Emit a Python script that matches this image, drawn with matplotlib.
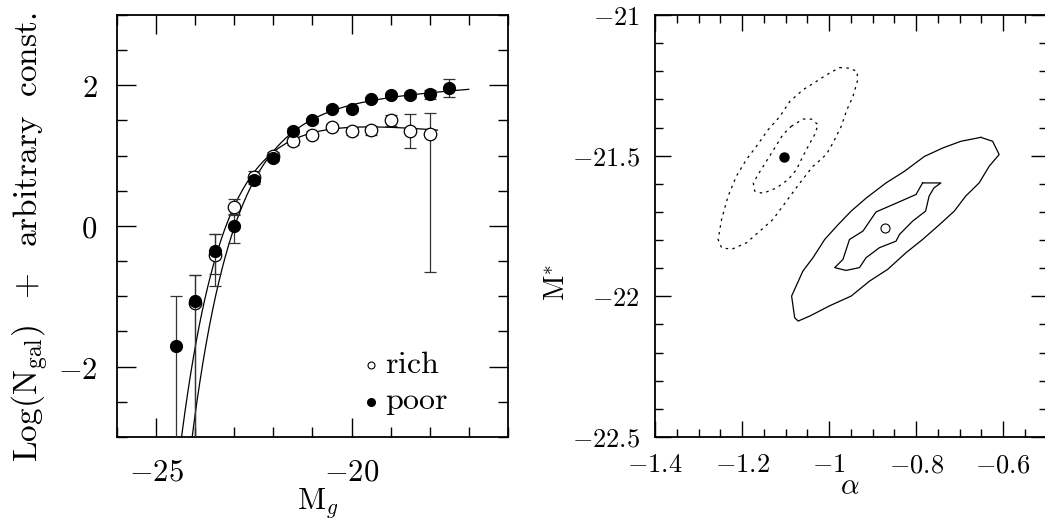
import numpy as np
import matplotlib
matplotlib.use("Agg")
import matplotlib.pyplot as plt
from matplotlib.ticker import MultipleLocator, FuncFormatter

plt.rcParams['mathtext.fontset'] = 'cm'
plt.rcParams['font.family'] = 'serif'
plt.rcParams['axes.formatter.use_mathtext'] = True

# ---- left panel: luminosity function data ----
mag_poor = [-24.5, -24.0, -23.5, -23.0, -22.5, -22.0, -21.5, -21.0,
            -20.5, -20.0, -19.5, -19.0, -18.5, -18.0, -17.5]
logn_poor = [-1.71, -1.07, -0.35, 0.00, 0.65, 0.97, 1.35, 1.50,
             1.67, 1.66, 1.80, 1.86, 1.86, 1.87, 1.96]
err_poor_lo = [3.0, 3.0, 0.33, 0.24, 0.06, 0.05, 0.04, 0.03,
               0.03, 0.03, 0.03, 0.03, 0.04, 0.06, 0.13]
err_poor_hi = [0.71, 0.37, 0.23, 0.17, 0.06, 0.05, 0.04, 0.03,
               0.03, 0.03, 0.03, 0.03, 0.04, 0.06, 0.13]

mag_rich = [-24.0, -23.5, -23.0, -22.5, -22.0, -21.5, -21.0,
            -20.5, -20.0, -19.5, -19.0, -18.5, -18.0]
logn_rich = [-1.10, -0.41, 0.27, 0.70, 1.00, 1.21, 1.30,
             1.41, 1.35, 1.36, 1.50, 1.35, 1.31]
err_rich_lo = [3.0, 0.44, 0.12, 0.08, 0.05, 0.06, 0.05,
               0.04, 0.05, 0.06, 0.08, 0.24, 1.97]
err_rich_hi = [0.40, 0.29, 0.12, 0.08, 0.05, 0.06, 0.05,
               0.04, 0.05, 0.06, 0.08, 0.24, 0.29]

# best-fit Schechter parameters (alpha, M*, log normalisation)
fit_rich = (-0.87, -21.76, 1.58)
fit_poor = (-1.10, -21.50, 1.77)

# ---- right panel: confidence contours (alpha, M*) ----
poor_outer_a = [-0.976, -0.953, -0.935, -0.935, -0.945, -0.959, -0.972, -0.991,
                -1.006, -1.022, -1.037, -1.067, -1.098, -1.129, -1.159, -1.190,
                -1.224, -1.247, -1.255, -1.247, -1.232, -1.213, -1.190, -1.167,
                -1.140, -1.113, -1.090, -1.060, -1.033, -1.006, -0.976]
poor_outer_m = [-21.187, -21.189, -21.201, -21.236, -21.290, -21.337, -21.396, -21.455,
                -21.495, -21.518, -21.538, -21.597, -21.662, -21.727, -21.768, -21.810,
                -21.833, -21.827, -21.798, -21.727, -21.644, -21.573, -21.514, -21.467,
                -21.408, -21.361, -21.307, -21.266, -21.240, -21.213, -21.187]
poor_inner_a = [-1.087, -1.060, -1.041, -1.025, -1.033, -1.048, -1.060, -1.075,
                -1.094, -1.121, -1.152, -1.171, -1.174, -1.163, -1.144, -1.125,
                -1.106, -1.087]
poor_inner_m = [-21.396, -21.370, -21.370, -21.390, -21.425, -21.467, -21.502, -21.550,
                -21.585, -21.615, -21.634, -21.626, -21.597, -21.567, -21.520, -21.473,
                -21.425, -21.396]
rich_outer_a = [-0.651, -0.624, -0.609, -0.632, -0.655, -0.686, -0.712, -0.746,
                -0.785, -0.823, -0.865, -0.907, -0.949, -0.999, -1.044, -1.071,
                -1.079, -1.086, -1.060, -1.037, -1.010, -0.979, -0.949, -0.914,
                -0.869, -0.827, -0.781, -0.739, -0.697, -0.651]
rich_outer_m = [-21.435, -21.449, -21.496, -21.538, -21.597, -21.644, -21.697, -21.745,
                -21.798, -21.845, -21.904, -21.946, -21.999, -22.034, -22.070, -22.088,
                -22.076, -21.999, -21.910, -21.863, -21.798, -21.745, -21.697, -21.650,
                -21.597, -21.556, -21.503, -21.473, -21.449, -21.435]
rich_inner_a = [-0.785, -0.743, -0.759, -0.770, -0.778, -0.808, -0.838, -0.846,
                -0.884, -0.915, -0.930, -0.961, -0.987, -0.968, -0.953, -0.922,
                -0.892, -0.853, -0.800, -0.785]
rich_inner_m = [-21.597, -21.597, -21.615, -21.644, -21.697, -21.733, -21.780, -21.804,
                -21.827, -21.863, -21.898, -21.908, -21.898, -21.869, -21.798, -21.768,
                -21.700, -21.674, -21.638, -21.597]
best_rich = (-0.871, -21.757)
best_poor = (-1.104, -21.506)


def schechter_log(m, alpha, mstar, lognorm):
    x = 10 ** (0.4 * (mstar - m))
    return lognorm + (alpha + 1) * np.log10(x) - x / np.log(10)


def mtick(v, pos):
    return r"$%g$" % v


fig = plt.figure(figsize=(10.45, 5.27), dpi=100)
ax1 = fig.add_axes([0.112, 0.1708, 0.374, 0.8008])
ax2 = fig.add_axes([0.6268, 0.1708, 0.3747, 0.8008])

# left panel
mm = np.linspace(-25.0, -17.8, 400)
ax1.plot(mm, schechter_log(mm, *fit_rich), color='black', lw=0.9)
mm = np.linspace(-25.0, -17.0, 400)
ax1.plot(mm, schechter_log(mm, *fit_poor), color='black', lw=0.9)

ax1.errorbar(mag_rich, logn_rich, yerr=[err_rich_lo, err_rich_hi], fmt='o',
             mfc='white', mec='black', mew=0.9, ms=9, ecolor='#333333',
             elinewidth=0.9, capsize=4, capthick=0.9, zorder=3)
ax1.errorbar(mag_poor, logn_poor, yerr=[err_poor_lo, err_poor_hi], fmt='o',
             mfc='black', mec='black', ms=8.5, ecolor='#333333',
             elinewidth=0.9, capsize=4, capthick=0.9, zorder=4)

ax1.set_xlim(-26, -16)
ax1.set_ylim(-3, 3)
ax1.xaxis.set_major_locator(MultipleLocator(5))
ax1.xaxis.set_minor_locator(MultipleLocator(1))
ax1.yaxis.set_major_locator(MultipleLocator(2))
ax1.yaxis.set_minor_locator(MultipleLocator(0.5))
ax1.xaxis.set_major_formatter(FuncFormatter(mtick))
ax1.yaxis.set_major_formatter(FuncFormatter(mtick))
ax1.tick_params(which='both', direction='in', top=True, right=True,
                width=1.0, labelsize=22, pad=14)
ax1.tick_params(which='major', length=13.5)
ax1.tick_params(which='minor', length=7)

ax1.plot([0.651], [0.171], 'o', mfc='white', mec='black', mew=0.8, ms=5,
         transform=ax1.transAxes, clip_on=False)
ax1.plot([0.651], [0.084], 'o', color='black', ms=5.5,
         transform=ax1.transAxes, clip_on=False)
ax1.text(0.685, 0.171, r"$\mathrm{rich}$", fontsize=23, va='center',
         transform=ax1.transAxes)
ax1.text(0.685, 0.084, r"$\mathrm{poor}$", fontsize=23, va='center',
         transform=ax1.transAxes)

fig.text(318 / 1045, 1 - 503 / 527, r"$\mathrm{M}_g$", fontsize=22,
         ha='center', va='center')
fig.text(30 / 1045, 1 - 237 / 527,
         r"$\mathrm{Log(N_{gal})\ \ +\ \ arbitrary\ \ const.}$",
         fontsize=24, rotation=90, ha='center', va='center')

# right panel
ax2.plot(poor_outer_a, poor_outer_m, color='black', lw=0.9, ls=(0, (2, 3.5)))
ax2.plot(poor_inner_a, poor_inner_m, color='black', lw=0.9, ls=(0, (2, 3.5)))
ax2.plot(rich_outer_a, rich_outer_m, color='black', lw=0.9)
ax2.plot(rich_inner_a, rich_inner_m, color='black', lw=0.9)
ax2.plot([best_poor[0]], [best_poor[1]], 'o', color='black', ms=6.5)
ax2.plot([best_rich[0]], [best_rich[1]], 'o', mfc='white', mec='black',
         mew=0.8, ms=6.5)

ax2.set_xlim(-1.4, -0.5)
ax2.set_ylim(-22.5, -21)
ax2.xaxis.set_major_locator(MultipleLocator(0.2))
ax2.xaxis.set_minor_locator(MultipleLocator(0.05))
ax2.yaxis.set_major_locator(MultipleLocator(0.5))
ax2.yaxis.set_minor_locator(MultipleLocator(0.1))
ax2.xaxis.set_major_formatter(FuncFormatter(mtick))
ax2.yaxis.set_major_formatter(FuncFormatter(mtick))
ax2.tick_params(which='both', direction='in', top=True, right=True,
                width=1.0, labelsize=19, pad=11)
ax2.tick_params(which='major', length=11.5)
ax2.tick_params(which='minor', length=5.5)

fig.text(850 / 1045, 1 - 486 / 527, r"$\alpha$", fontsize=21,
         ha='center', va='center')
fig.text(556 / 1045, 1 - 282 / 527, r"$\mathrm{M}^{*}$", fontsize=20,
         rotation=90, ha='center', va='center')

for ax in (ax1, ax2):
    for s in ax.spines.values():
        s.set_linewidth(1.3)

fig.savefig('out.png', dpi=100)
